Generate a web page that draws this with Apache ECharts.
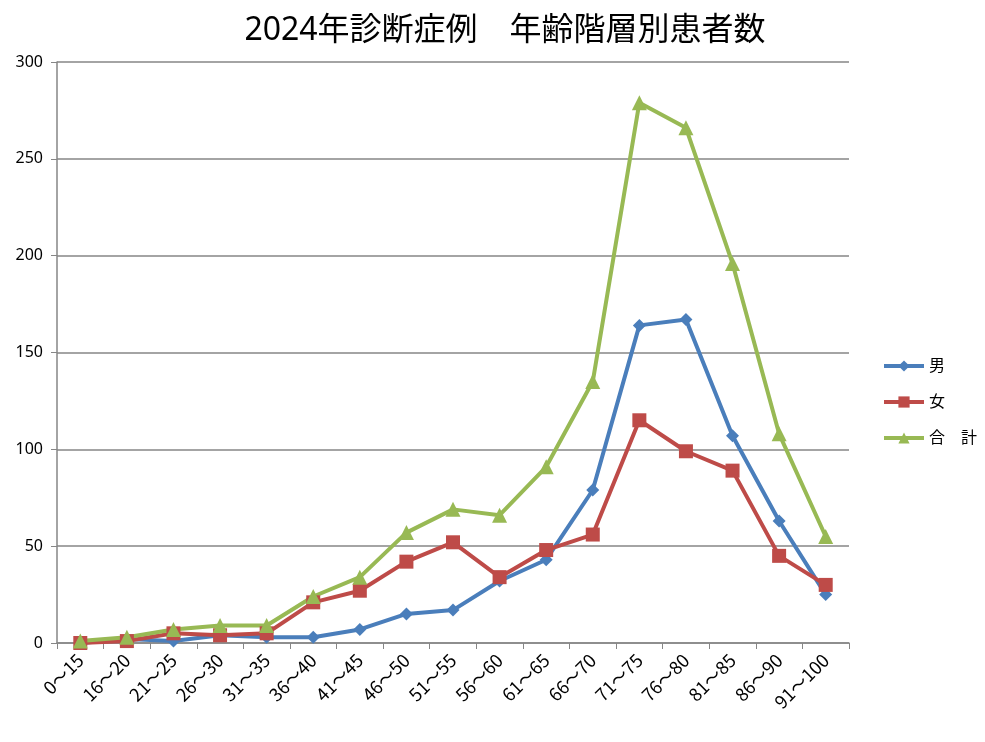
<!DOCTYPE html>
<html>
<head>
<meta charset="utf-8">
<script src="https://cdn.jsdelivr.net/npm/echarts@6/dist/echarts.min.js"></script>
<style>
html, body { margin: 0; padding: 0; background: #fff; }
#main { width: 985px; height: 742px; }
</style>
</head>
<body>
<div id="main"></div>
<script>
var categories = ['0〜15', '16〜20', '21〜25', '26〜30', '31〜35', '36〜40', '41〜45', '46〜50', '51〜55',
    '56〜60', '61〜65', '66〜70', '71〜75', '76〜80', '81〜85', '86〜90', '91〜100'];
var maleData = [0, 2, 1, 4, 3, 3, 7, 15, 17, 32, 43, 79, 164, 167, 107, 63, 25];
var femaleData = [0, 1, 5, 4, 5, 21, 27, 42, 52, 34, 48, 56, 115, 99, 89, 45, 30];
var totalData = [1, 3, 7, 9, 9, 24, 34, 57, 69, 66, 91, 135, 279, 266, 196, 108, 55];
var yTicks = { min: 0, max: 300, interval: 50 };

var myChart = echarts.init(document.getElementById('main'));
var font = '"Noto Sans", "Noto Sans CJK JP", sans-serif';
var axisGray = '#868686';

myChart.setOption({
    animation: false,
    textStyle: { fontFamily: font },
    title: {
        text: '2024年診断症例　年齢階層別患者数',
        left: 500,
        textAlign: 'center',
        top: 10,
        textStyle: { fontSize: 32, fontWeight: 'normal', color: '#000', fontFamily: font }
    },
    legend: {
        orient: 'vertical',
        left: 877,
        top: 353,
        itemWidth: 40,
        itemHeight: 14,
        itemGap: 20,
        lineStyle: { width: 4 },
        textStyle: { fontSize: 16, color: '#000', fontFamily: font },
        data: ['男', '女', '合　計']
    },
    grid: { left: 57, right: 136, top: 62, bottom: 99 },
    xAxis: {
        type: 'category',
        data: categories,
        boundaryGap: true,
        axisLine: { lineStyle: { color: axisGray, width: 1.5 } },
        axisTick: { show: true, length: 6, alignWithLabel: false, lineStyle: { color: axisGray } },
        axisLabel: {
            rotate: 45, fontSize: 18, color: '#000', margin: 14, interval: 0,
            fontFamily: '"Noto Sans CJK JP", "Noto Sans", sans-serif'
        }
    },
    yAxis: {
        type: 'value',
        min: yTicks.min,
        max: yTicks.max,
        interval: yTicks.interval,
        axisLine: { show: true, lineStyle: { color: axisGray, width: 1.5 } },
        axisTick: { show: true, length: 6, inside: false, lineStyle: { color: axisGray } },
        axisLabel: { fontSize: 16, color: '#000', margin: 14 },
        splitLine: { lineStyle: { color: axisGray, width: 1.5 } }
    },
    series: [
        {
            name: '男',
            type: 'line',
            data: maleData,
            symbol: 'diamond',
            symbolSize: 13,
            color: '#4a7ebb',
            lineStyle: { width: 4 }
        },
        {
            name: '女',
            type: 'line',
            data: femaleData,
            symbol: 'rect',
            symbolSize: 14,
            color: '#be4b48',
            lineStyle: { width: 4 }
        },
        {
            name: '合　計',
            type: 'line',
            data: totalData,
            symbol: 'triangle',
            symbolSize: 15,
            color: '#98b954',
            lineStyle: { width: 4 }
        }
    ]
});
</script>
</body>
</html>
